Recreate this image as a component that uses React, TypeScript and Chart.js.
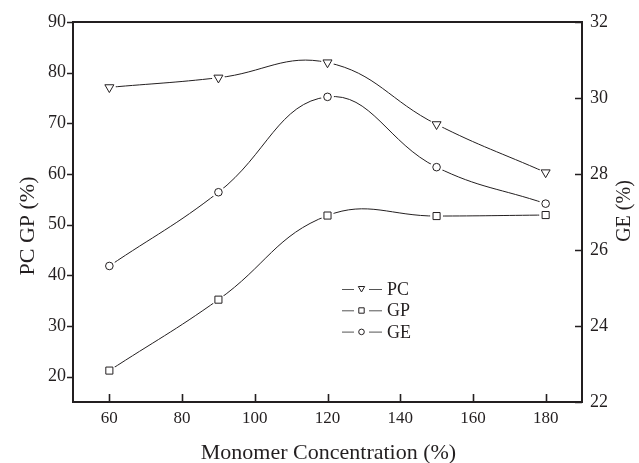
import React, { useEffect, useRef } from 'react';
import { Chart, registerables } from 'chart.js';

Chart.register(...registerables);

// ---- data ----
const concentrations = [60, 90, 120, 150, 180];
const pcValues = [77.1, 79.0, 82.0, 69.8, 60.3];
const gpValues = [21.2, 35.2, 51.8, 51.7, 51.9];
const geValues = [25.58, 27.52, 30.03, 28.18, 27.22];

const xTicks = [60, 80, 100, 120, 140, 160, 180];
const leftTicks = [20, 30, 40, 50, 60, 70, 80, 90];
const rightTicks = [22, 24, 26, 28, 30, 32];

const seriesNames = ['PC', 'GP', 'GE'];
const xTitle = 'Monomer Concentration (%)';
const leftTitle = 'PC GP (%)';
const rightTitle = 'GE (%)';

const INK = '#231f20';
const FONT = "'Liberation Serif', 'Times New Roman', serif";

const toPoints = (vals: number[]) => concentrations.map((x, i) => ({ x, y: vals[i] }));

const decorPlugin = {
  id: 'decor',
  afterDraw(chart: any) {
    const ctx = chart.ctx as CanvasRenderingContext2D;
    const { left, right, top, bottom } = chart.chartArea;
    const xs = chart.scales.x;
    const yl = chart.scales.y;
    const yr = chart.scales.y2;
    ctx.save();
    ctx.strokeStyle = INK;
    ctx.lineWidth = 2;
    ctx.strokeRect(left, top, right - left, bottom - top);

    // tick marks
    ctx.lineWidth = 1.6;
    ctx.beginPath();
    xTicks.forEach((v) => {
      const px = Math.round(xs.getPixelForValue(v)) + 0.5;
      ctx.moveTo(px, bottom);
      ctx.lineTo(px, bottom - 8);
    });
    leftTicks.forEach((v) => {
      const py = Math.round(yl.getPixelForValue(v)) + 0.5;
      ctx.moveTo(left, py);
      ctx.lineTo(left - 6, py);
    });
    rightTicks.forEach((v) => {
      const py = Math.round(yr.getPixelForValue(v)) + 0.5;
      ctx.moveTo(right, py);
      ctx.lineTo(right - 7, py);
    });
    ctx.stroke();

    // titles
    ctx.fillStyle = INK;
    ctx.textBaseline = 'alphabetic';
    ctx.textAlign = 'center';
    ctx.font = `22px ${FONT}`;
    ctx.fillText(xTitle, (left + right) / 2 + 1, 459);

    ctx.save();
    ctx.translate(34, 226);
    ctx.rotate(-Math.PI / 2);
    ctx.font = `22px ${FONT}`;
    ctx.fillText(leftTitle, 0, 0);
    ctx.restore();

    ctx.save();
    ctx.translate(630, 211);
    ctx.rotate(-Math.PI / 2);
    ctx.font = `20px ${FONT}`;
    ctx.fillText(rightTitle, 0, 0);
    ctx.restore();

    // legend
    const lx = left + 269;
    const ly = top + 267;
    ctx.font = `18px ${FONT}`;
    ctx.textAlign = 'left';
    seriesNames.forEach((name, i) => {
      const cy = ly + i * 21.3;
      ctx.strokeStyle = '#555';
      ctx.lineWidth = 1;
      ctx.beginPath();
      ctx.moveTo(lx, cy + 0.5);
      ctx.lineTo(lx + 12, cy + 0.5);
      ctx.moveTo(lx + 27, cy + 0.5);
      ctx.lineTo(lx + 40, cy + 0.5);
      ctx.stroke();
      const mx = lx + 19.5;
      ctx.strokeStyle = INK;
      ctx.beginPath();
      if (i === 0) {
        ctx.moveTo(mx - 3.2, cy - 2.5);
        ctx.lineTo(mx + 3.2, cy - 2.5);
        ctx.lineTo(mx, cy + 3);
        ctx.closePath();
      } else if (i === 1) {
        ctx.rect(mx - 2.7, cy - 2.5, 5.4, 5.4);
      } else {
        ctx.arc(mx, cy + 0.3, 2.8, 0, Math.PI * 2);
      }
      ctx.stroke();
      ctx.fillStyle = INK;
      ctx.fillText(name, lx + 45, cy + 6);
    });
    ctx.restore();
  },
};

function lineSet(vals: number[], axis: string) {
  return {
    data: toPoints(vals),
    yAxisID: axis,
    borderColor: INK,
    borderWidth: 1,
    tension: 0.42,
    fill: false,
    pointRadius: 6.5,
    pointStyle: 'circle',
    pointBackgroundColor: '#ffffff',
    pointBorderWidth: 0,
    pointBorderColor: 'rgba(0,0,0,0)',
    order: 1,
  };
}

function markerSet(vals: number[], axis: string, style: string, radius: number, rotation = 0) {
  return {
    data: toPoints(vals),
    yAxisID: axis,
    showLine: false,
    pointStyle: style,
    pointRadius: radius,
    pointRotation: rotation,
    pointBackgroundColor: '#ffffff',
    pointBorderColor: INK,
    pointBorderWidth: 1,
    borderColor: INK,
    order: 0,
  };
}

export default function App() {
  const canvasRef = useRef<HTMLCanvasElement | null>(null);

  useEffect(() => {
    document.body.style.margin = '0';
    const canvas = canvasRef.current;
    if (!canvas) return;
    const tickFont = (size: number) => ({ family: FONT, size });
    const chart = new Chart(canvas, {
      type: 'line',
      data: {
        datasets: [
          lineSet(pcValues, 'y'),
          lineSet(gpValues, 'y'),
          lineSet(geValues, 'y2'),
          markerSet(pcValues, 'y', 'triangle', 5.2, 180),
          markerSet(gpValues, 'y', 'rect', 5),
          markerSet(geValues, 'y2', 'circle', 3.8),
        ] as any,
      },
      options: {
        animation: false,
        responsive: false,
        events: [],
        layout: { padding: { top: 22, left: 0, right: 0, bottom: 0 } },
        plugins: {
          legend: { display: false },
          tooltip: { enabled: false },
        },
        scales: {
          x: {
            type: 'linear',
            min: 50,
            max: 190,
            grid: { display: false, drawTicks: false },
            border: { display: false },
            ticks: { font: tickFont(17), color: INK, padding: 6, maxRotation: 0, autoSkip: false },
            afterBuildTicks: (s: any) => {
              s.ticks = xTicks.map((v) => ({ value: v }));
            },
            afterFit: (s: any) => {
              s.height = 61;
            },
          },
          y: {
            type: 'linear',
            position: 'left',
            min: 15,
            max: 90,
            grid: { display: false, drawTicks: false },
            border: { display: false },
            ticks: { font: tickFont(18), color: INK, padding: 7, autoSkip: false },
            afterBuildTicks: (s: any) => {
              s.ticks = leftTicks.map((v) => ({ value: v }));
            },
            afterFit: (s: any) => {
              s.width = 73;
            },
          },
          y2: {
            type: 'linear',
            position: 'right',
            min: 22,
            max: 32,
            grid: { display: false, drawTicks: false },
            border: { display: false },
            ticks: { font: tickFont(18), color: INK, padding: 8, autoSkip: false },
            afterBuildTicks: (s: any) => {
              s.ticks = rightTicks.map((v) => ({ value: v }));
            },
            afterFit: (s: any) => {
              s.width = 57;
            },
          },
        },
      } as any,
      plugins: [decorPlugin],
    });
    return () => chart.destroy();
  }, []);

  return (
    <div style={{ position: 'fixed', left: 0, top: 0, width: 639, height: 463, background: '#fff' }}>
      <canvas ref={canvasRef} width={639} height={463} style={{ display: 'block' }} />
    </div>
  );
}
